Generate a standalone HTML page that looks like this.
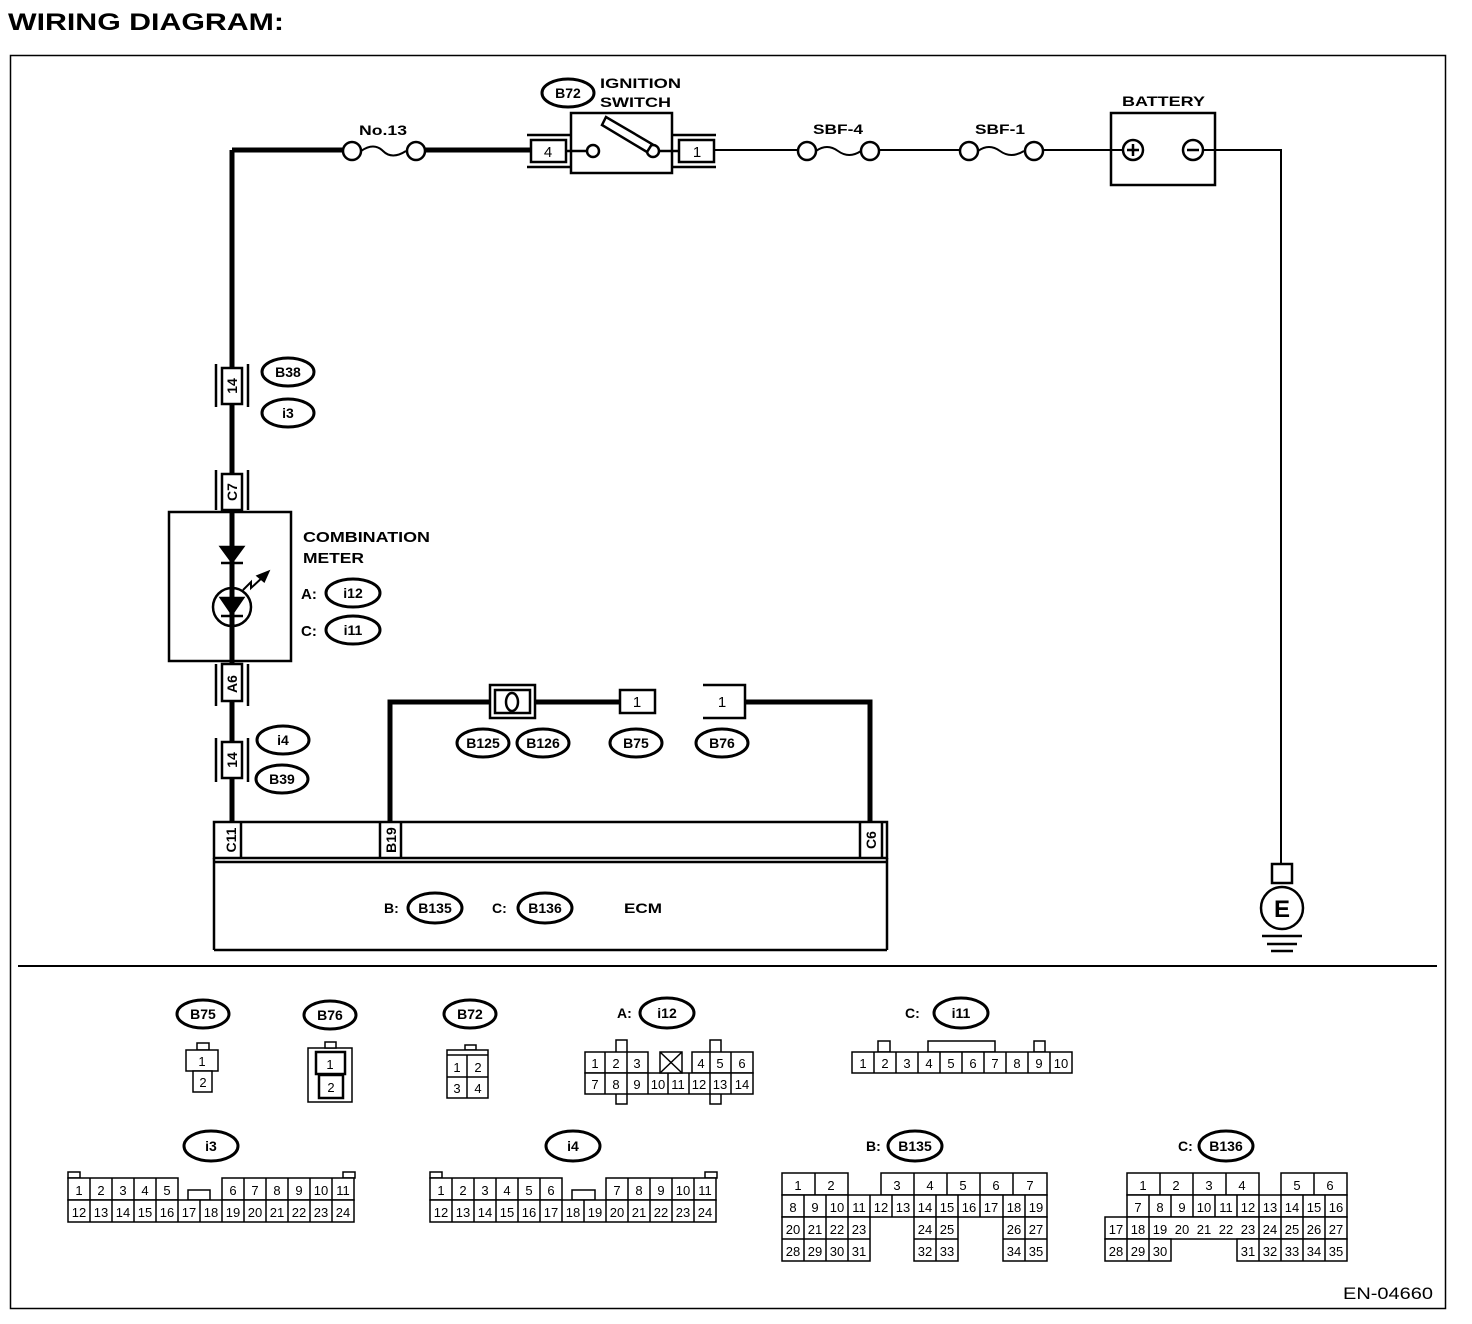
<!DOCTYPE html>
<html><head><meta charset="utf-8"><style>
body{margin:0;background:#fff}
svg{display:block}
text{font-family:"Liberation Sans",Arial,sans-serif;fill:#000}
.b{font-weight:bold}
.c text{font-size:13px;text-anchor:middle}
</style></head><body>
<svg width="1472" height="1324" viewBox="0 0 1472 1324" xmlns="http://www.w3.org/2000/svg">
<text x="8" y="30" class="b" font-size="24" textLength="276" lengthAdjust="spacingAndGlyphs">WIRING DIAGRAM:</text>
<rect x="10.5" y="55.5" width="1435" height="1253" fill="none" stroke="#000" stroke-width="1.5"/>

<g stroke="#000" stroke-width="5" fill="none">
<polyline points="232,150 232,822"/>
<line x1="232" y1="150" x2="343" y2="150"/>
<line x1="425" y1="150" x2="530" y2="150"/>
<polyline points="390,822 390,702 490,702"/>
<line x1="535" y1="702" x2="620" y2="702"/>
<polyline points="745,702 870,702 870,822"/>
</g>
<g stroke="#000" stroke-width="2" fill="none">
<line x1="715" y1="150" x2="797" y2="150"/>
<line x1="880" y1="150" x2="959" y2="150"/>
<line x1="1044" y1="150" x2="1122" y2="150"/>
<polyline points="1203,150 1281,150 1281,863"/>
</g>
<g stroke="#000" stroke-width="2.5" fill="#fff">
<circle cx="352" cy="151" r="9"/><circle cx="416" cy="151" r="9"/>
<circle cx="807" cy="151" r="9"/><circle cx="870" cy="151" r="9"/>
<circle cx="969" cy="151" r="9"/><circle cx="1034" cy="151" r="9"/>
</g>
<g stroke="#000" stroke-width="2" fill="none">
<path d="M361,151 q13,-9 22,0 t23,0"/>
<path d="M816,151 q11,-8 22,0 t23,0"/>
<path d="M978,151 q11,-8 22,0 t24,0"/>
</g>
<text x="359" y="135" class="b" font-size="14" textLength="48" lengthAdjust="spacingAndGlyphs">No.13</text>
<text x="813" y="134" class="b" font-size="14" textLength="50" lengthAdjust="spacingAndGlyphs">SBF-4</text>
<text x="975" y="134" class="b" font-size="14" textLength="50" lengthAdjust="spacingAndGlyphs">SBF-1</text>

<g stroke="#000" stroke-width="2.5" fill="#fff">
<line x1="527" y1="135" x2="571" y2="135"/><line x1="527" y1="167" x2="571" y2="167"/>
<rect x="531" y="140" width="35" height="22"/>
<line x1="672" y1="135" x2="716" y2="135"/><line x1="672" y1="167" x2="716" y2="167"/>
<rect x="679" y="140" width="35" height="22"/>
<rect x="571" y="113" width="101" height="60"/>
<line x1="566" y1="151" x2="586" y2="151"/><line x1="660" y1="151" x2="679" y2="151"/>
<circle cx="593" cy="151" r="6"/><circle cx="653" cy="151" r="6"/>
<polygon points="602,125 606,117 652,144 647,152"/>
</g>
<text x="548" y="157" font-size="15" text-anchor="middle">4</text>
<text x="697" y="157" font-size="15" text-anchor="middle">1</text>
<ellipse cx="568" cy="93" rx="26" ry="14" fill="none" stroke="#000" stroke-width="3"/>
<text x="568" y="98" class="b" font-size="14" text-anchor="middle">B72</text>
<text x="600" y="88" class="b" font-size="14" textLength="81" lengthAdjust="spacingAndGlyphs">IGNITION</text>
<text x="600" y="107" class="b" font-size="14" textLength="71" lengthAdjust="spacingAndGlyphs">SWITCH</text>

<rect x="1111" y="113" width="104" height="72" fill="none" stroke="#000" stroke-width="2.5"/>
<text x="1122" y="106" class="b" font-size="14" textLength="83" lengthAdjust="spacingAndGlyphs">BATTERY</text>
<g stroke="#000" stroke-width="2.5" fill="#fff">
<circle cx="1133" cy="150" r="10"/><circle cx="1193" cy="150" r="10"/>
<line x1="1127" y1="150" x2="1139" y2="150"/><line x1="1133" y1="144" x2="1133" y2="156"/>
<line x1="1187" y1="150" x2="1199" y2="150"/>
</g>

<g stroke="#000" stroke-width="2.5" fill="#fff">
<rect x="1272" y="864" width="20" height="19"/>
<circle cx="1282" cy="908" r="21"/>
<line x1="1262" y1="936" x2="1302" y2="936"/>
<line x1="1267" y1="944" x2="1297" y2="944"/>
<line x1="1271" y1="951" x2="1293" y2="951"/>
</g>
<text x="1282" y="917" class="b" font-size="24" text-anchor="middle">E</text>

<g stroke="#000" stroke-width="2.5" fill="#fff">
<line x1="216" y1="364" x2="216" y2="407"/><line x1="248" y1="364" x2="248" y2="407"/>
<rect x="222" y="368" width="20" height="36"/>
<line x1="216" y1="470" x2="216" y2="510"/><line x1="248" y1="470" x2="248" y2="510"/>
<rect x="222" y="474" width="20" height="36"/>
<line x1="216" y1="664" x2="216" y2="706"/><line x1="248" y1="664" x2="248" y2="706"/>
<rect x="222" y="664" width="20" height="37"/>
<line x1="216" y1="738" x2="216" y2="782"/><line x1="248" y1="738" x2="248" y2="782"/>
<rect x="222" y="742" width="20" height="36"/>
</g>
<g class="b" font-size="14" text-anchor="middle">
<text transform="translate(237,386) rotate(-90)">14</text>
<text transform="translate(237,492) rotate(-90)">C7</text>
<text transform="translate(237,684) rotate(-90)">A6</text>
<text transform="translate(237,760) rotate(-90)">14</text>
</g>

<rect x="169" y="512" width="122" height="149" fill="none" stroke="#000" stroke-width="2.5"/>
<g stroke="#000" stroke-width="2.5" fill="#000">
<line x1="232" y1="512" x2="232" y2="661"/>
<polygon points="221,547 243,547 232,562"/><line x1="221" y1="563" x2="243" y2="563"/>
<circle cx="232" cy="607" r="19" fill="none"/>
<polygon points="221,598 243,598 232,614"/><line x1="221" y1="616" x2="243" y2="616"/>
<polyline points="243,590 251,582 251,588 264,576" fill="none" stroke-width="2"/>
<polygon points="268,572 258,576 264,581"/>
</g>
<text x="303" y="542" class="b" font-size="15" textLength="127" lengthAdjust="spacingAndGlyphs">COMBINATION</text>
<text x="303" y="563" class="b" font-size="15" textLength="61" lengthAdjust="spacingAndGlyphs">METER</text>
<text x="301" y="599" class="b" font-size="15">A:</text>
<text x="301" y="636" class="b" font-size="15">C:</text>

<g fill="none" stroke="#000" stroke-width="3">
<ellipse cx="288" cy="372" rx="26" ry="14"/><ellipse cx="288" cy="413" rx="26" ry="14"/>
<ellipse cx="353" cy="593" rx="27" ry="14"/><ellipse cx="353" cy="630" rx="27" ry="14"/>
<ellipse cx="283" cy="740" rx="26" ry="14"/><ellipse cx="282" cy="779" rx="26" ry="14"/>
<ellipse cx="483" cy="743" rx="26" ry="14"/><ellipse cx="543" cy="743" rx="26" ry="14"/>
<ellipse cx="636" cy="743" rx="26" ry="14"/><ellipse cx="722" cy="743" rx="26" ry="14"/>
<ellipse cx="435" cy="908" rx="27" ry="15"/><ellipse cx="545" cy="908" rx="27" ry="15"/>
</g>
<g class="b" font-size="14" text-anchor="middle">
<text x="288" y="377">B38</text><text x="288" y="418">i3</text>
<text x="353" y="598">i12</text><text x="353" y="635">i11</text>
<text x="283" y="745">i4</text><text x="282" y="784">B39</text>
<text x="483" y="748">B125</text><text x="543" y="748">B126</text>
<text x="636" y="748">B75</text><text x="722" y="748">B76</text>
<text x="435" y="913">B135</text><text x="545" y="913">B136</text>
</g>
<text x="384" y="913" class="b" font-size="14">B:</text>
<text x="492" y="913" class="b" font-size="14">C:</text>
<text x="624" y="913" class="b" font-size="14" textLength="38" lengthAdjust="spacingAndGlyphs">ECM</text>

<g stroke="#000" stroke-width="2.5" fill="#fff">
<rect x="490" y="685" width="45" height="33"/>
<rect x="495" y="690" width="35" height="23"/>
<ellipse cx="512" cy="702" rx="6" ry="9" fill="none"/>
<rect x="620" y="690" width="35" height="23"/>
<polyline points="703,685 745,685 745,718 703,718" fill="none"/>
</g>
<text x="637" y="707" font-size="15" text-anchor="middle">1</text>
<text x="722" y="707" font-size="15" text-anchor="middle">1</text>

<g stroke="#000" stroke-width="2.5" fill="none">
<rect x="214" y="822" width="673" height="36"/>
<line x1="214" y1="858" x2="214" y2="950"/><line x1="887" y1="858" x2="887" y2="950"/>
<line x1="214" y1="862" x2="887" y2="862"/><line x1="214" y1="950" x2="887" y2="950"/>
<line x1="241" y1="822" x2="241" y2="858"/>
<line x1="380" y1="822" x2="380" y2="858"/><line x1="401" y1="822" x2="401" y2="858"/>
<line x1="860" y1="822" x2="860" y2="858"/><line x1="882" y1="822" x2="882" y2="858"/>
</g>
<g class="b" font-size="14" text-anchor="middle">
<text transform="translate(236,840) rotate(-90)">C11</text>
<text transform="translate(396,840) rotate(-90)">B19</text>
<text transform="translate(876,840) rotate(-90)">C6</text>
</g>

<line x1="18" y1="966" x2="1437" y2="966" stroke="#000" stroke-width="2"/>

<g fill="none" stroke="#000" stroke-width="3">
<ellipse cx="203" cy="1014" rx="26" ry="14"/><ellipse cx="330" cy="1015" rx="26" ry="14"/>
<ellipse cx="470" cy="1014" rx="26" ry="14"/><ellipse cx="667" cy="1013" rx="27" ry="15"/>
<ellipse cx="961" cy="1013" rx="27" ry="15"/>
<ellipse cx="211" cy="1146" rx="27" ry="15"/><ellipse cx="573" cy="1146" rx="27" ry="15"/>
<ellipse cx="915" cy="1146" rx="27" ry="15"/><ellipse cx="1226" cy="1146" rx="27" ry="15"/>
</g>
<g class="b" font-size="14" text-anchor="middle">
<text x="203" y="1019">B75</text><text x="330" y="1020">B76</text><text x="470" y="1019">B72</text>
<text x="667" y="1018">i12</text><text x="961" y="1018">i11</text>
<text x="211" y="1151">i3</text><text x="573" y="1151">i4</text>
<text x="915" y="1151">B135</text><text x="1226" y="1151">B136</text>
</g>
<g class="b" font-size="14">
<text x="617" y="1018">A:</text><text x="905" y="1018">C:</text>
<text x="866" y="1151">B:</text><text x="1178" y="1151">C:</text>
</g>

<g stroke="#000" stroke-width="1.5" fill="#fff">
<rect x="197" y="1043" width="12" height="7"/>
<rect x="186" y="1050" width="32" height="21"/>
<rect x="193" y="1071" width="19" height="21"/>
<rect x="308" y="1048" width="44" height="54"/>
<rect x="325" y="1042" width="11" height="6"/>
<rect x="316" y="1052" width="29" height="22" stroke-width="2.5"/>
<rect x="319" y="1075" width="24" height="23" stroke-width="2.5"/>
<rect x="465" y="1045" width="11" height="5"/>
<rect x="447" y="1050" width="41" height="48"/>
<line x1="447" y1="1055" x2="488" y2="1055"/>
<line x1="447" y1="1077" x2="488" y2="1077"/><line x1="467" y1="1055" x2="467" y2="1098"/>
<rect x="616" y="1040" width="11" height="64"/><rect x="710" y="1040" width="11" height="64"/>
<rect x="585" y="1052" width="63" height="21"/><rect x="692" y="1052" width="61" height="21"/>
<rect x="585" y="1073" width="168" height="21"/>
<line x1="605" y1="1052" x2="605" y2="1094"/><line x1="627" y1="1052" x2="627" y2="1094"/>
<line x1="648" y1="1073" x2="648" y2="1094"/><line x1="668" y1="1073" x2="668" y2="1094"/>
<line x1="689" y1="1073" x2="689" y2="1094"/><line x1="710" y1="1052" x2="710" y2="1094"/>
<line x1="731" y1="1052" x2="731" y2="1094"/>
<rect x="660" y="1052" width="22" height="21"/>
<line x1="660" y1="1052" x2="682" y2="1073"/><line x1="682" y1="1052" x2="660" y2="1073"/>
<rect x="878" y="1041" width="12" height="11"/><rect x="928" y="1041" width="67" height="11"/><rect x="1034" y="1041" width="11" height="11"/>
<rect x="852" y="1052" width="220" height="21"/>
</g>
<g stroke="#000" stroke-width="1.5">
<line x1="874" y1="1052" x2="874" y2="1073"/><line x1="896" y1="1052" x2="896" y2="1073"/><line x1="918" y1="1052" x2="918" y2="1073"/><line x1="940" y1="1052" x2="940" y2="1073"/><line x1="962" y1="1052" x2="962" y2="1073"/><line x1="984" y1="1052" x2="984" y2="1073"/><line x1="1006" y1="1052" x2="1006" y2="1073"/><line x1="1028" y1="1052" x2="1028" y2="1073"/><line x1="1050" y1="1052" x2="1050" y2="1073"/>
</g>
<g class="c">
<text x="202" y="1066">1</text><text x="203" y="1087">2</text>
<text x="330" y="1069">1</text><text x="331" y="1092">2</text>
<text x="457" y="1072">1</text><text x="478" y="1072">2</text><text x="457" y="1093">3</text><text x="478" y="1093">4</text>
<text x="595" y="1068">1</text><text x="616" y="1068">2</text><text x="637" y="1068">3</text><text x="701" y="1068">4</text><text x="720" y="1068">5</text><text x="742" y="1068">6</text>
<text x="595" y="1089">7</text><text x="616" y="1089">8</text><text x="637" y="1089">9</text><text x="658" y="1089">10</text><text x="678" y="1089">11</text><text x="699" y="1089">12</text><text x="720" y="1089">13</text><text x="742" y="1089">14</text>
<text x="863" y="1068">1</text><text x="885" y="1068">2</text><text x="907" y="1068">3</text><text x="929" y="1068">4</text><text x="951" y="1068">5</text><text x="973" y="1068">6</text><text x="995" y="1068">7</text><text x="1017" y="1068">8</text><text x="1039" y="1068">9</text><text x="1061" y="1068">10</text>
</g>

<g stroke="#000" stroke-width="1.5" fill="#fff">
<rect x="68" y="1172" width="12" height="6"/><rect x="343" y="1172" width="12" height="6"/>
<rect x="68" y="1178" width="110" height="22"/><rect x="222" y="1178" width="132" height="22"/>
<rect x="188" y="1190" width="22" height="10"/>
<rect x="68" y="1200" width="286" height="22"/>
<path d="M90,1178v44M112,1178v44M134,1178v44M156,1178v44M178,1200v22M200,1200v22M222,1200v22M244,1178v44M266,1178v44M288,1178v44M310,1178v44M332,1178v44"/>
<rect x="430" y="1172" width="12" height="6"/><rect x="705" y="1172" width="12" height="6"/>
<rect x="430" y="1178" width="132" height="22"/><rect x="606" y="1178" width="110" height="22"/>
<rect x="572" y="1190" width="23" height="10"/>
<rect x="430" y="1200" width="286" height="22"/>
<path d="M452,1178v44M474,1178v44M496,1178v44M518,1178v44M540,1178v44M562,1200v22M584,1200v22M606,1200v22M628,1178v44M650,1178v44M672,1178v44M694,1178v44"/>
</g>
<g class="c">
<text x="79" y="1195">1</text><text x="101" y="1195">2</text><text x="123" y="1195">3</text><text x="145" y="1195">4</text><text x="167" y="1195">5</text>
<text x="233" y="1195">6</text><text x="255" y="1195">7</text><text x="277" y="1195">8</text><text x="299" y="1195">9</text><text x="321" y="1195">10</text><text x="343" y="1195">11</text>
<text x="79" y="1217">12</text><text x="101" y="1217">13</text><text x="123" y="1217">14</text><text x="145" y="1217">15</text><text x="167" y="1217">16</text><text x="189" y="1217">17</text><text x="211" y="1217">18</text><text x="233" y="1217">19</text><text x="255" y="1217">20</text><text x="277" y="1217">21</text><text x="299" y="1217">22</text><text x="321" y="1217">23</text><text x="343" y="1217">24</text>
<text x="441" y="1195">1</text><text x="463" y="1195">2</text><text x="485" y="1195">3</text><text x="507" y="1195">4</text><text x="529" y="1195">5</text><text x="551" y="1195">6</text>
<text x="617" y="1195">7</text><text x="639" y="1195">8</text><text x="661" y="1195">9</text><text x="683" y="1195">10</text><text x="705" y="1195">11</text>
<text x="441" y="1217">12</text><text x="463" y="1217">13</text><text x="485" y="1217">14</text><text x="507" y="1217">15</text><text x="529" y="1217">16</text><text x="551" y="1217">17</text><text x="573" y="1217">18</text><text x="595" y="1217">19</text><text x="617" y="1217">20</text><text x="639" y="1217">21</text><text x="661" y="1217">22</text><text x="683" y="1217">23</text><text x="705" y="1217">24</text>
</g>

<g stroke="#000" stroke-width="1.5" fill="#fff">
<rect x="782" y="1173" width="66" height="22"/><rect x="881" y="1173" width="166" height="22"/>
<rect x="782" y="1195" width="265" height="22"/>
<rect x="782" y="1217" width="88" height="44"/><rect x="914" y="1217" width="44" height="44"/><rect x="1003" y="1217" width="44" height="44"/>
<path d="M815,1173v22M914,1173v22M947,1173v22M980,1173v22M1013,1173v22"/>
<path d="M804,1195v66M826,1195v66M848,1195v66M870,1195v22M892,1195v22M914,1195v22M936,1195v66M958,1195v22M980,1195v22M1003,1195v22M1025,1195v66"/>
<path d="M782,1239h88M914,1239h44M1003,1239h44"/>
</g>
<g class="c">
<text x="798" y="1190">1</text><text x="831" y="1190">2</text><text x="897" y="1190">3</text><text x="930" y="1190">4</text><text x="963" y="1190">5</text><text x="996" y="1190">6</text><text x="1030" y="1190">7</text>
<text x="793" y="1212">8</text><text x="815" y="1212">9</text><text x="837" y="1212">10</text><text x="859" y="1212">11</text><text x="881" y="1212">12</text><text x="903" y="1212">13</text><text x="925" y="1212">14</text><text x="947" y="1212">15</text><text x="969" y="1212">16</text><text x="991" y="1212">17</text><text x="1014" y="1212">18</text><text x="1036" y="1212">19</text>
<text x="793" y="1234">20</text><text x="815" y="1234">21</text><text x="837" y="1234">22</text><text x="859" y="1234">23</text><text x="925" y="1234">24</text><text x="947" y="1234">25</text><text x="1014" y="1234">26</text><text x="1036" y="1234">27</text>
<text x="793" y="1256">28</text><text x="815" y="1256">29</text><text x="837" y="1256">30</text><text x="859" y="1256">31</text><text x="925" y="1256">32</text><text x="947" y="1256">33</text><text x="1014" y="1256">34</text><text x="1036" y="1256">35</text>
</g>

<g stroke="#000" stroke-width="1.5" fill="#fff">
<rect x="1127" y="1173" width="132" height="22"/><rect x="1281" y="1173" width="66" height="22"/>
<rect x="1127" y="1195" width="220" height="22"/>
<rect x="1105" y="1217" width="242" height="22"/>
<rect x="1105" y="1239" width="66" height="22"/><rect x="1237" y="1239" width="110" height="22"/>
<path d="M1160,1173v22M1193,1173v22M1226,1173v22M1314,1173v22"/>
<path d="M1127,1217v44M1149,1195v66M1171,1195v22M1193,1195v22M1215,1195v22M1237,1195v22M1259,1195v66M1281,1195v66M1303,1195v66M1325,1195v66"/>
</g>
<g class="c">
<text x="1143" y="1190">1</text><text x="1176" y="1190">2</text><text x="1209" y="1190">3</text><text x="1242" y="1190">4</text><text x="1297" y="1190">5</text><text x="1330" y="1190">6</text>
<text x="1138" y="1212">7</text><text x="1160" y="1212">8</text><text x="1182" y="1212">9</text><text x="1204" y="1212">10</text><text x="1226" y="1212">11</text><text x="1248" y="1212">12</text><text x="1270" y="1212">13</text><text x="1292" y="1212">14</text><text x="1314" y="1212">15</text><text x="1336" y="1212">16</text>
<text x="1116" y="1234">17</text><text x="1138" y="1234">18</text><text x="1160" y="1234">19</text><text x="1182" y="1234">20</text><text x="1204" y="1234">21</text><text x="1226" y="1234">22</text><text x="1248" y="1234">23</text><text x="1270" y="1234">24</text><text x="1292" y="1234">25</text><text x="1314" y="1234">26</text><text x="1336" y="1234">27</text>
<text x="1116" y="1256">28</text><text x="1138" y="1256">29</text><text x="1160" y="1256">30</text><text x="1248" y="1256">31</text><text x="1270" y="1256">32</text><text x="1292" y="1256">33</text><text x="1314" y="1256">34</text><text x="1336" y="1256">35</text>
</g>

<text x="1343" y="1299" font-size="17" textLength="90" lengthAdjust="spacingAndGlyphs">EN-04660</text>
</svg>
</body></html>
